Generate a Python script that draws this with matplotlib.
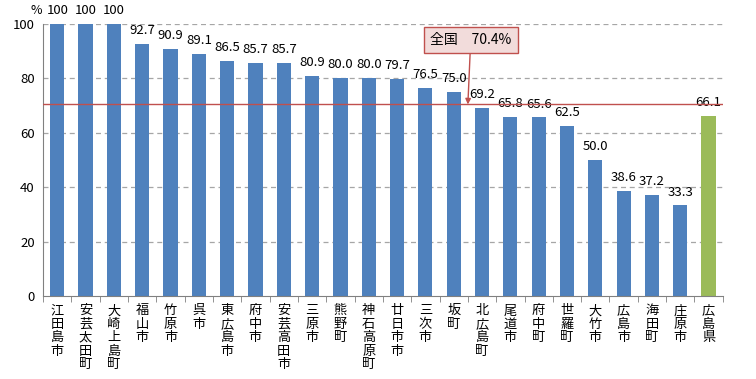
import matplotlib
matplotlib.use("Agg")
import matplotlib.pyplot as plt

plt.rcParams['font.family'] = ['Noto Sans CJK JP', 'DejaVu Sans']

# data
names = ["江田島市", "安芸太田町", "大崎上島町", "福山市", "竹原市", "呉市", "東広島市",
         "府中市", "安芸高田市", "三原市", "熊野町", "神石高原町", "廿日市市", "三次市",
         "坂町", "北広島町", "尾道市", "府中町", "世羅町", "大竹市", "広島市", "海田町",
         "庄原市", "広島県"]
values = [100, 100, 100, 92.7, 90.9, 89.1, 86.5, 85.7, 85.7, 80.9, 80.0, 80.0, 79.7,
          76.5, 75.0, 69.2, 65.8, 65.6, 62.5, 50.0, 38.6, 37.2, 33.3, 66.1]
value_labels = ["100", "100", "100", "92.7", "90.9", "89.1", "86.5", "85.7", "85.7",
                "80.9", "80.0", "80.0", "79.7", "76.5", "75.0", "69.2", "65.8", "65.6",
                "62.5", "50.0", "38.6", "37.2", "33.3", "66.1"]
national = 70.4
national_label = "全国　70.4%"

blue = "#4F81BD"
green = "#9BBB59"
colors = [blue] * (len(values) - 1) + [green]

fig = plt.figure(figsize=(7.56, 3.79), dpi=100)
ax = fig.add_axes([0.057, 0.219, 0.899, 0.718])

x = list(range(len(values)))
ax.bar(x, values, width=0.5, color=colors, zorder=2)

ax.set_xlim(-0.5, len(values) - 0.5)
ax.set_ylim(0, 100)
ax.set_yticks(range(0, 101, 20))
ax.tick_params(axis='y', length=0, labelsize=9.5, pad=6)
for y in range(20, 101, 20):
    ax.axhline(y, color="#A6A6A6", lw=0.9, ls=(0, (4, 3)), zorder=1)

# vertical category labels
ax.set_xticks(x)
ax.set_xticklabels(["\n".join(n) for n in names], fontsize=9.5, va='top', linespacing=1.05)
ax.tick_params(axis='x', length=0, pad=6)
ax.set_xticks([i + 0.5 for i in range(-1, len(values))], minor=True)
ax.tick_params(axis='x', which='minor', length=4, color="#808080")

for s in ["top", "right"]:
    ax.spines[s].set_visible(False)
for s in ["left", "bottom"]:
    ax.spines[s].set_color("#808080")

for xi, v, lab in zip(x, values, value_labels):
    ax.text(xi, v + 2.5, lab, ha='center', va='bottom', fontsize=9.5, clip_on=False)

ax.text(-0.75, 102.5, "%", ha='center', va='bottom', fontsize=9)

# national average line
ax.axhline(national, color="#C0504D", lw=1.0, zorder=3)
ax.annotate(national_label, xy=(14.5, national), xytext=(14.6, 94),
            ha='center', va='center', fontsize=10,
            bbox=dict(boxstyle="square,pad=0.45", fc="#F2DCDB", ec="#C0504D", lw=1),
            arrowprops=dict(arrowstyle="-|>", color="#C0504D", lw=1, shrinkA=0, shrinkB=0,
                            mutation_scale=8),
            zorder=4)

fig.savefig("out.png", dpi=100)
